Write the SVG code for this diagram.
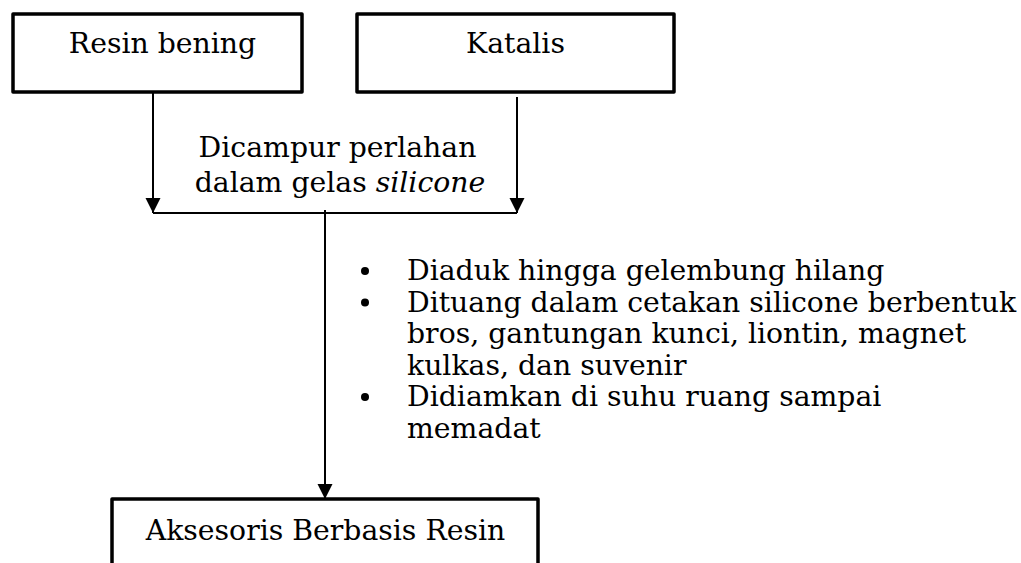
<svg xmlns="http://www.w3.org/2000/svg" width="1021" height="563" viewBox="0 0 1021 563">
<style>
.box{fill:#fff;stroke:#000;stroke-width:3.5;stroke-linejoin:round}
.t{font-family:"DejaVu Serif","Liberation Serif",serif;font-size:28.3px;fill:#000}
.c{stroke:#000;stroke-width:2;fill:none}
</style>
<defs>
<marker id="ah" markerWidth="16" markerHeight="16" refX="15" refY="7.5" orient="auto" markerUnits="userSpaceOnUse">
<path d="M0,0 L15,7.5 L0,15 Z" fill="#000"/>
</marker>
</defs>
<rect width="1021" height="563" fill="#fff"/>
<g id="connectors">
<line class="c" x1="153" y1="88" x2="153" y2="213" marker-end="url(#ah)"/>
<line class="c" x1="517" y1="97" x2="517" y2="213" marker-end="url(#ah)"/>
<line class="c" x1="153" y1="213" x2="517" y2="213"/>
<line class="c" x1="325" y1="210" x2="325" y2="499" marker-end="url(#ah)"/>
</g>
<g id="resin-bening">
<rect class="box" x="13" y="14" width="289" height="78"/>
<text class="t" x="162.5" y="53" text-anchor="middle">Resin bening</text>
</g>
<g id="katalis">
<rect class="box" x="357" y="14" width="317" height="78"/>
<text class="t" x="515.5" y="53" text-anchor="middle">Katalis</text>
</g>
<g id="label-campur">
<text class="t" x="337.5" y="157" text-anchor="middle">Dicampur perlahan</text>
<text class="t" x="340" y="192" text-anchor="middle">dalam gelas <tspan font-style="italic">silicone</tspan></text>
</g>
<g id="steps">
<circle cx="365" cy="271" r="4"/>
<circle cx="365" cy="302.5" r="4"/>
<circle cx="365" cy="397" r="4"/>
<text class="t" x="407" y="280">Diaduk hingga gelembung hilang</text>
<text class="t" x="407" y="311.5">Dituang dalam cetakan silicone berbentuk</text>
<text class="t" x="407" y="343">bros, gantungan kunci, liontin, magnet</text>
<text class="t" x="407" y="374.5">kulkas, dan suvenir</text>
<text class="t" x="407" y="406">Didiamkan di suhu ruang sampai</text>
<text class="t" x="407" y="437.5">memadat</text>
</g>
<g id="aksesoris">
<rect class="box" x="112" y="499" width="426" height="80"/>
<text class="t" x="325.5" y="540" text-anchor="middle">Aksesoris Berbasis Resin</text>
</g>
</svg>
